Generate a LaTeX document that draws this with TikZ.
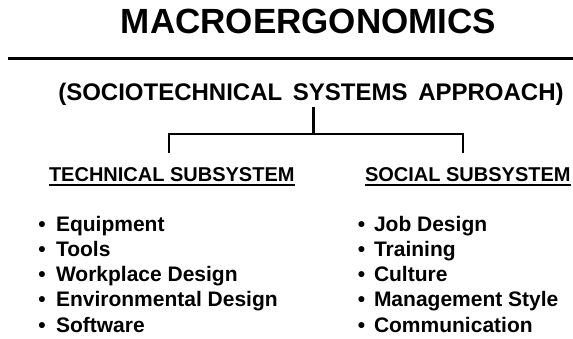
\documentclass[tikz,border=0pt]{standalone}
\usepackage{fontspec}
\setmainfont{Liberation Sans}
\begin{document}
\begin{tikzpicture}[x=1pt,y=-1pt,
  txt/.style={inner sep=0pt,outer sep=0pt,font=\bfseries},
  titlefont/.style={txt,font=\bfseries\fontsize{35}{40}\selectfont},
  subfont/.style={txt,font=\bfseries\fontsize{24}{28}\selectfont},
  headfont/.style={txt,font=\bfseries\fontsize{20}{24}\selectfont},
  itemfont/.style={txt,font=\bfseries\fontsize{21}{25}\selectfont,anchor=base west},
  bul/.style={txt,font=\bfseries\fontsize{21}{25}\selectfont,anchor=base},
  rule/.style={line width=3pt},
  conn/.style={line width=2.6pt},
  uline/.style={line width=2pt}]
\useasboundingbox (0,0) rectangle (573,338);
% title
\node[titlefont,anchor=base] (title) at (308.5,33) {MACROERGONOMICS};
\coordinate (rl) at (8,58);
\coordinate (rr) at (573,58);
\draw[rule] (rl) -- (rr);
% subtitle
\node[subfont,anchor=base] (sub) at (311,100) {(SOCIOTECHNICAL\hspace{4pt} SYSTEMS\hspace{4pt} APPROACH)};
% connector
\coordinate (top) at (313.5,107);
\coordinate (mid) at (313.5,134);
\coordinate (lend) at (169,153);
\coordinate (rend) at (463,153);
\draw[conn] (top) -- (mid);
\draw[conn] (lend) |- (mid) -| (rend);
% headings
\node[headfont,anchor=base west] (lh) at (49,181) {TECHNICAL SUBSYSTEM};
\node[headfont,anchor=base west] (rh) at (365,181) {SOCIAL SUBSYSTEM};
\draw[uline] ([yshift=-4pt]lh.base west) -- ([yshift=-4pt]lh.base east);
\draw[uline] ([yshift=-4pt]rh.base west) -- ([yshift=-4pt]rh.base east);
% left items
\foreach \t [count=\i from 0] in {Equipment,Tools,Workplace Design,Environmental Design,Software}{
  \node[bul] (lb\i) at (42,231+25.25*\i) {•};
  \node[itemfont] (li\i) at (56,231+25.25*\i) {\t};
}
% right items
\foreach \t [count=\i from 0] in {Job Design,Training,Culture,Management Style,Communication}{
  \node[bul] (rb\i) at (361.5,231+25.25*\i) {•};
  \node[itemfont] (ri\i) at (374,231+25.25*\i) {\t};
}
\end{tikzpicture}
\end{document}
